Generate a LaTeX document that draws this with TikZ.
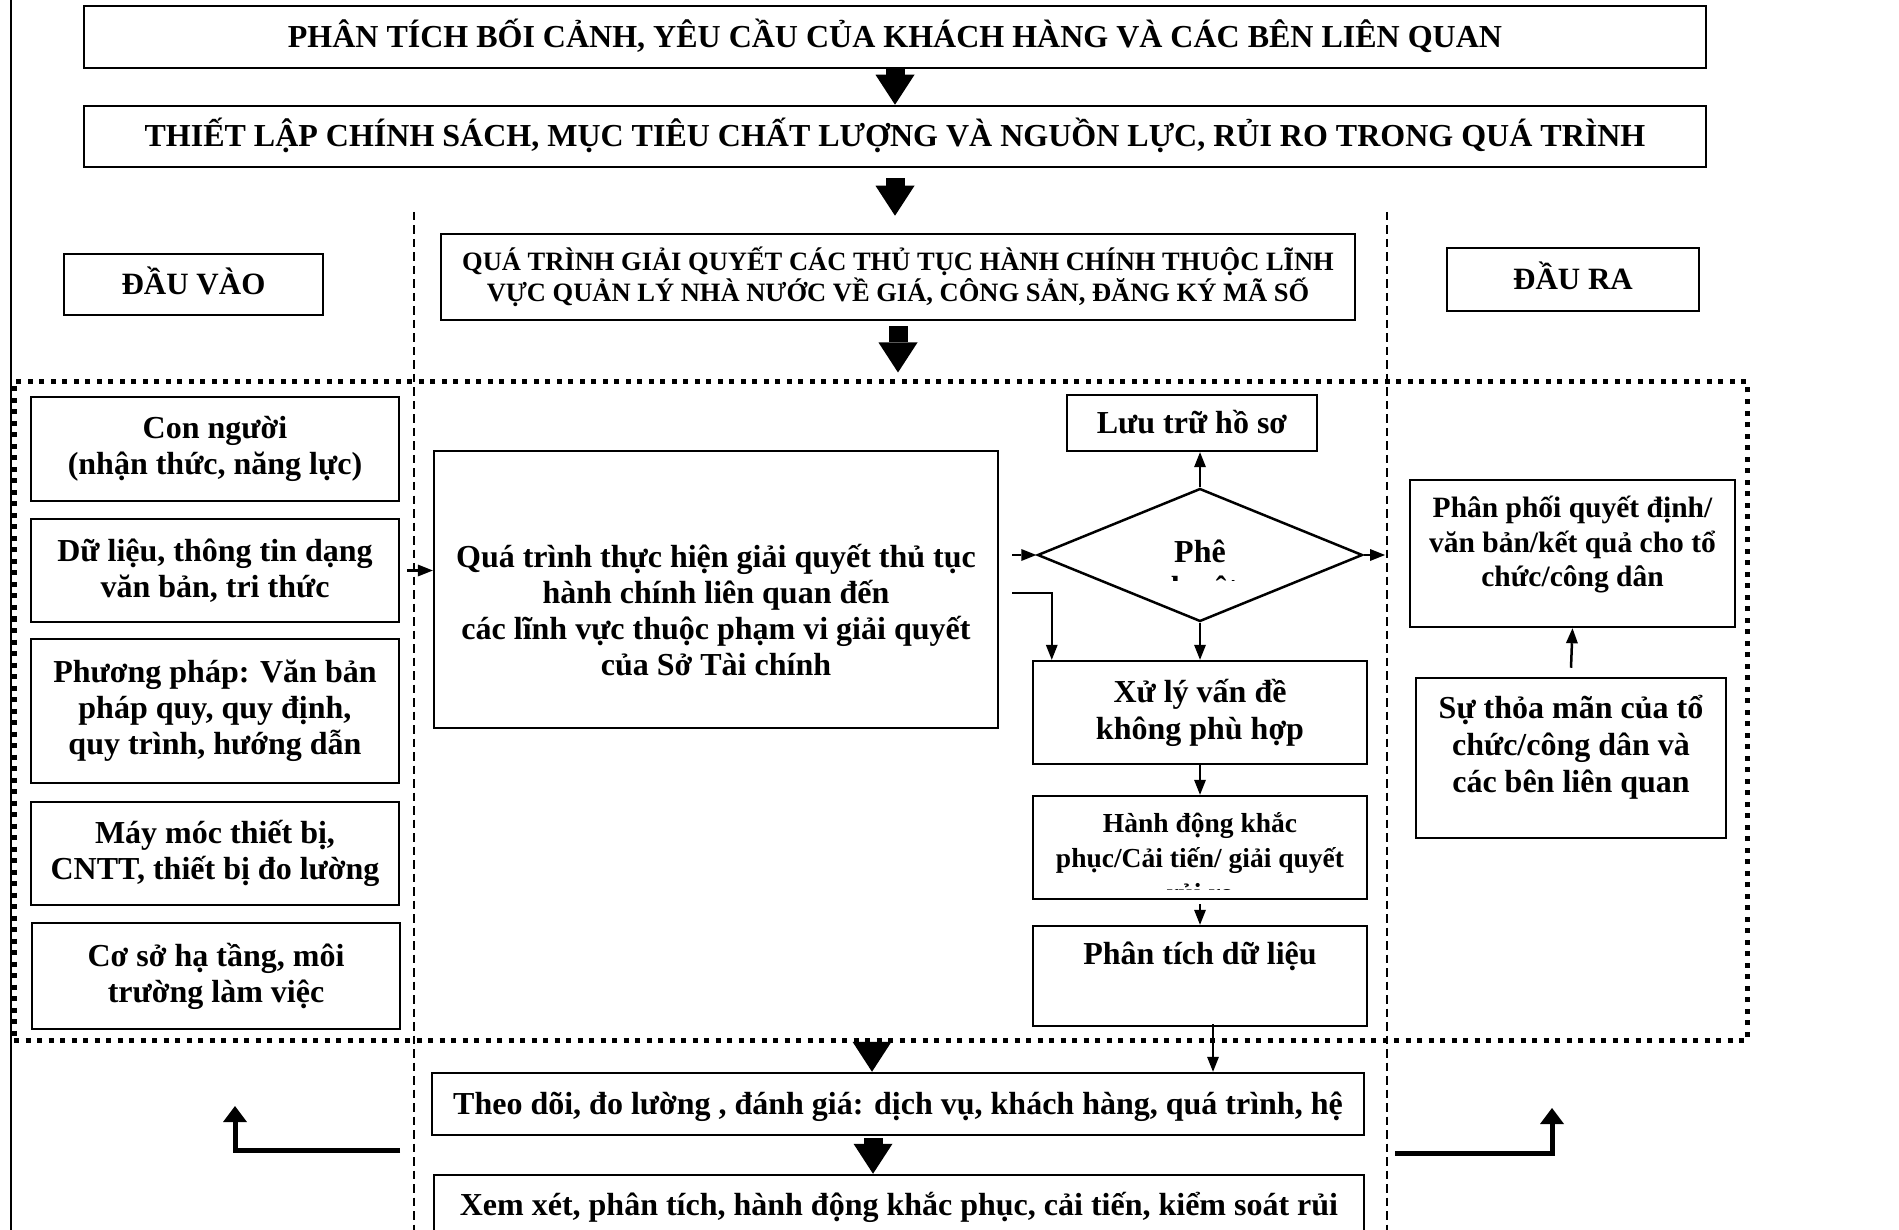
\documentclass[tikz,border=0pt]{standalone}
\usepackage{fontspec}
\setmainfont{Liberation Serif}
\usetikzlibrary{arrows.meta,shapes.geometric,calc}
\newcommand\fsz[2]{\fontsize{#1}{#2}\selectfont\bfseries}
\begin{document}
\begin{tikzpicture}[x=1pt,y=-1pt,
  box/.style={draw, line width=2.5pt, inner sep=0pt, align=center, font=\fsz{32}{36}},
  txt/.style={inner sep=0pt, align=center, font=\fsz{32}{36}},
  oneline/.style={text height=21pt, text depth=0pt},
  arr/.style={line width=2.5pt, -{Triangle[length=15pt 0 0,width=12pt 0 0,line width=0pt]}},
  barrow/.style={line width=19pt, -{Triangle[length=30pt 0 0,width=39pt 0 0,line width=0pt]}},
  earrow/.style={line width=5pt, -{Triangle[length=16pt 0 0,width=24pt 0 0,line width=0pt]}},
  sepline/.style={line width=2.5pt, dash pattern=on 8.5pt off 5pt},
  dotbox/.style={draw, line width=5pt, dash pattern=on 5pt off 6.5pt, inner sep=0pt}
]
\useasboundingbox (0,0) rectangle (1899,1230);
\clip (0,0) rectangle (1899,1230);

% separators
\draw[line width=2pt] (11,0) -- (11,1230);
\draw[sepline] (414,212) -- (414,1230);
\draw[sepline] (1387,212) -- (1387,1230);

% top boxes
\node[box, oneline, minimum width=1622pt, minimum height=62pt] (b1) at (895,37)
  {PHÂN TÍCH BỐI CẢNH, YÊU CẦU CỦA KHÁCH HÀNG VÀ CÁC BÊN LIÊN QUAN};
\node[box, oneline, minimum width=1622pt, minimum height=61pt] (b2) at (895,136.5)
  {THIẾT LẬP CHÍNH SÁCH, MỤC TIÊU CHẤT LƯỢNG VÀ NGUỒN LỰC, RỦI RO TRONG QUÁ TRÌNH};
\node[box, minimum width=914pt, minimum height=86pt, font=\fsz{26.5}{31}] (qt) at (898,277)
  {QUÁ TRÌNH GIẢI QUYẾT CÁC THỦ TỤC HÀNH CHÍNH THUỘC LĨNH\\VỰC QUẢN LÝ NHÀ NƯỚC VỀ GIÁ, CÔNG SẢN, ĐĂNG KÝ MÃ SỐ};
\node[box, minimum width=259pt, minimum height=61pt, font=\fsz{31}{35}, text height=20.5pt, text depth=0pt] (dv) at (193.5,284.5) {ĐẦU VÀO};
\node[box, minimum width=252pt, minimum height=63pt, font=\fsz{31}{35}, text height=20.5pt, text depth=0pt] (dr) at (1573,279.5) {ĐẦU RA};

% dotted frame
\node[dotbox, minimum width=1733pt, minimum height=658pt] (frame) at (880.5,711) {};

% inputs
\node[box, minimum width=368pt, minimum height=104pt] (cn) at (215,449) {Con người\\(nhận thức, năng lực)};
\node[box, minimum width=368pt, minimum height=103pt] (dl) at (215,570.5) {Dữ liệu, thông tin dạng\\văn bản, tri thức};
\node[box, minimum width=368pt, minimum height=144pt] (ppq) at (215,711) {Phương pháp: Văn bản\\pháp quy, quy định,\\quy trình, hướng dẫn};
\node[box, minimum width=368pt, minimum height=103pt] (mm) at (215,853.5) {Máy móc thiết bị,\\CNTT, thiết bị đo lường};
\node[box, minimum width=368pt, minimum height=106pt] (cs) at (216,976) {Cơ sở hạ tầng, môi\\trường làm việc};

% process
\node[box, minimum width=564pt, minimum height=277pt] (qtthB) at (716,589.5) {};
\node[txt] (qtthT) at (716,610) {Quá trình thực hiện giải quyết thủ tục\\hành chính liên quan đến\\các lĩnh vực thuộc phạm vi giải quyết\\của Sở Tài chính};

\node[draw, diamond, line width=2.5pt, minimum width=325pt, minimum height=133pt, inner sep=0pt] (dia) at (1200,555) {};
\begin{scope}
  \clip (1040,470) rectangle (1360,580);
  \node[txt] (diaT) at (1200,573) {Phê\\duyệt};
\end{scope}

\node[box, oneline, minimum width=250pt, minimum height=56pt] (lt) at (1192,423) {Lưu trữ hồ sơ};
\node[box, minimum width=334pt, minimum height=103pt, font=\fsz{32}{37}] (xl) at (1200,712.5) {Xử lý vấn đề\\không phù hợp};
\node[box, minimum width=334pt, minimum height=103pt] (hdB) at (1200,847.5) {};
\begin{scope}
  \clip (1036,798) rectangle (1364,889);
  \node[txt, font=\fsz{27.5}{35}] (hdT) at (1200,857.5) {Hành động khắc\\phục/Cải tiến/ giải quyết\\rủi ro};
\end{scope}
\node[box, minimum width=334pt, minimum height=100pt] (ptB) at (1200,976) {};
\node[txt] (ptT) at (1200,956) {Phân tích dữ liệu};

% outputs
\node[box, minimum width=325pt, minimum height=147pt] (ppdB) at (1572.5,553.5) {};
\node[txt, font=\fsz{29.5}{34.5}] (ppdT) at (1572.5,545) {Phân phối quyết định/\\văn bản/kết quả cho tổ\\chức/công dân};
\node[box, minimum width=310pt, minimum height=160pt] (stmB) at (1571,758) {};
\node[txt, font=\fsz{32}{37}] (stmT) at (1571,747) {Sự thỏa mãn của tổ\\chức/công dân và\\các bên liên quan};

% bottom boxes
\node[box, oneline, minimum width=932pt, minimum height=62pt] (td) at (898,1104)
  {Theo dõi, đo lường , đánh giá: dịch vụ, khách hàng, quá trình, hệ};
\node[box, minimum width=930pt, minimum height=80pt] (xxB) at (899,1215) {};
\node[txt] (xxT) at (899,1207.5) {Xem xét, phân tích, hành động khắc phục, cải tiến, kiểm soát rủi};

% thin arrows
\draw[arr] ([xshift=7pt]dl.east) -- (dl.east -| qtthB.west);
\draw[arr] ($(qtthB.east |- dia.west)+(13,0)$) -- (dia.west);
\draw[arr] ($(qtthB.east)+(13,3.5)$) -| ($(xl.north west)+(20,0)$);
\draw[arr] (dia.north) -- (dia.north |- lt.south);
\coordinate (diaOut) at (1385,555);
\draw[arr] (dia.east) -- (diaOut);
\draw[arr] (dia.south) -- (dia.south |- xl.north);
\draw[arr] (xl.south) -- (hdB.north);
\draw[arr] ([yshift=-4pt]hdB.south) -- (ptB.north);
\coordinate (p1) at ($(ptB.south)+(13,-3)$);
\draw[arr] (p1) -- (p1 |- td.north);
\draw[arr] ([yshift=9pt]stmB.north) -- (ppdB.south);

% block arrows
\draw[barrow] (b1.south) -- (b2.north);
\draw[barrow, shorten <=10pt, shorten >=17pt] (b2.south) -- (b2.south |- qt.north);
\draw[barrow, shorten <=5pt, shorten >=7pt] (qt.south) -- (qt.south |- frame.north);
\draw[barrow] (frame.south -| 872,0) -- (td.north -| 872,0);
\draw[barrow, shorten <=2pt] (td.south -| 873,0) -- (xxB.north -| 873,0);

% feedback arrows
\coordinate (la1) at (400,1150);
\coordinate (la2) at (235,1106);
\draw[earrow] (la1) -| (la2);
\coordinate (ra1) at (1395,1153);
\coordinate (ra2) at (1552,1108);
\draw[earrow] (ra1) -| (ra2);
\end{tikzpicture}
\end{document}
